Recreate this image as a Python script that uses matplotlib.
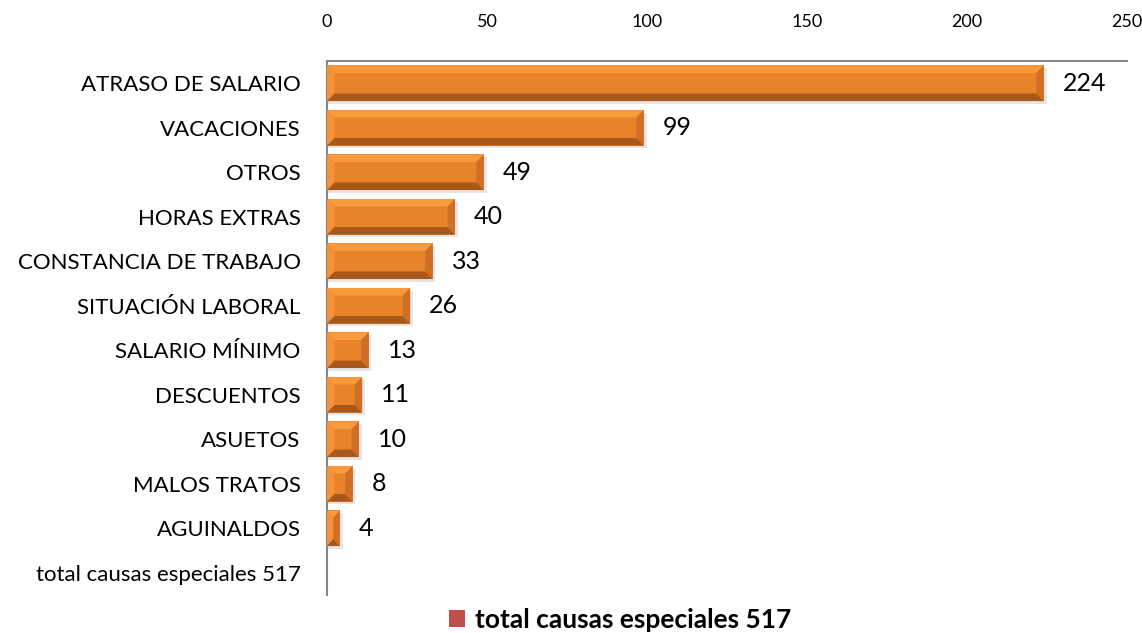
import matplotlib
matplotlib.use("Agg")
import matplotlib.pyplot as plt
from matplotlib.patches import Polygon, Patch

plt.rcParams['font.family'] = ['Lato', 'DejaVu Sans']

# data
categories = ["ATRASO DE SALARIO", "VACACIONES", "OTROS", "HORAS EXTRAS",
              "CONSTANCIA DE TRABAJO", "SITUACIÓN LABORAL", "SALARIO MÍNIMO",
              "DESCUENTOS", "ASUETOS", "MALOS TRATOS", "AGUINALDOS",
              "total causas especiales 517"]
values = [224, 99, 49, 40, 33, 26, 13, 11, 10, 8, 4, None]
legend_label = "total causas especiales 517"
xticks = [0, 50, 100, 150, 200, 250]

fig = plt.figure(figsize=(11.42, 6.33), dpi=100)
ax = fig.add_axes([0.2863, 0.060, 0.7006, 0.8436])

ypos = list(range(len(categories)))
h = 0.8
bx = 2.3   # bevel size in data units (x)
by = 0.17  # bevel size in data units (y)

for y, v in zip(ypos, values):
    if not v:
        continue
    # soft shadow
    ax.barh(y + 0.06, v + 0.6, height=h, left=0.3, color="#000000", alpha=0.10, zorder=1)
    # main face
    ax.barh(y, v, height=h, color="#E8832A", zorder=2)
    x0, x1 = 0, v
    y0, y1 = y - h / 2, y + h / 2   # y0 is top (axis inverted)
    b = min(bx, v / 2)
    # top bevel
    ax.add_patch(Polygon([(x0, y0), (x1, y0), (x1 - b, y0 + by), (x0 + b, y0 + by)],
                         closed=True, color="#F99B3C", zorder=3, lw=0))
    # bottom bevel
    ax.add_patch(Polygon([(x0, y1), (x1, y1), (x1 - b, y1 - by), (x0 + b, y1 - by)],
                         closed=True, color="#A9581C", zorder=3, lw=0))
    # left bevel
    ax.add_patch(Polygon([(x0, y0), (x0 + b, y0 + by), (x0 + b, y1 - by), (x0, y1)],
                         closed=True, color="#F3923A", zorder=3, lw=0))
    # right bevel
    ax.add_patch(Polygon([(x1, y0), (x1 - b, y0 + by), (x1 - b, y1 - by), (x1, y1)],
                         closed=True, color="#CF6E24", zorder=3, lw=0))
    ax.text(v + 6, y, str(v), va="center", ha="left", fontsize=18, color="#000000")

ax.set_xlim(0, 250)
ax.set_ylim(len(categories) - 0.5, -0.5)
ax.set_yticks(ypos)
ax.set_yticklabels(categories, fontsize=16)
ax.xaxis.tick_top()
ax.set_xticks(xticks)
ax.set_xticklabels([str(t) for t in xticks], fontsize=13)
ax.tick_params(axis="x", length=0, pad=22)
ax.tick_params(axis="y", length=0, pad=19)

for s in ["right", "bottom"]:
    ax.spines[s].set_visible(False)
for s in ["top", "left"]:
    ax.spines[s].set_color("#868686")
    ax.spines[s].set_linewidth(1.5)

handles = [Patch(facecolor="#C0504D", label=legend_label)]
fig.legend(handles=handles, loc="center", bbox_to_anchor=(0.543, 0.021), frameon=False,
           prop={"size": 19, "weight": "bold"}, handlelength=0.6, handleheight=0.6,
           handletextpad=0.4)

fig.savefig("out.png", dpi=100)
